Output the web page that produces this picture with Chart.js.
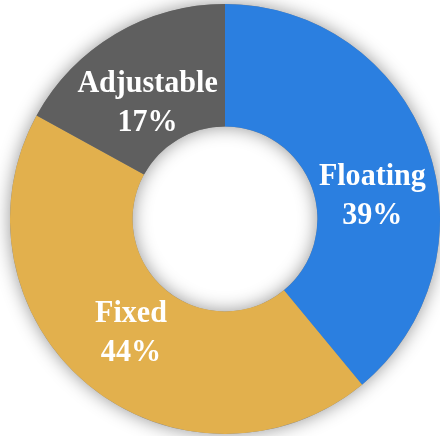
<!DOCTYPE html>
<html>
<head>
<meta charset="utf-8">
<script src="https://cdn.jsdelivr.net/npm/chart.js@4.4.1/dist/chart.umd.min.js"></script>
<style>
html,body{margin:0;padding:0;background:#ffffff;}
#wrap{width:440px;height:436px;position:relative;}
</style>
</head>
<body>
<div id="wrap"><canvas id="c" width="440" height="436"></canvas></div>
<script>
const categories = ["Floating", "Fixed", "Adjustable"];
const shares = [39, 44, 17];
const sliceColors = ["#2B7FE0", "#E2B04D", "#5F5F5F"];
// small angular nudges (degrees) applied to the label placement
const labelAngleShift = [11, 0, -3];
const labelRadiusFrac = [0.97, 0.96, 0.91];

const ringShadow = {
  id: 'ringShadow',
  beforeDatasetsDraw(chart) {
    const arc = chart.getDatasetMeta(0).data[0];
    if (!arc) return;
    const {x, y, outerRadius, innerRadius} = arc.getProps(['x','y','outerRadius','innerRadius'], true);
    const ctx = chart.ctx;
    ctx.save();
    ctx.shadowColor = 'rgba(0,0,0,0.42)';
    ctx.shadowBlur = 18;
    ctx.fillStyle = '#888';
    ctx.beginPath();
    ctx.arc(x, y, outerRadius, 0, Math.PI * 2);
    ctx.arc(x, y, innerRadius, 0, Math.PI * 2, true);
    ctx.closePath();
    ctx.fill();
    ctx.restore();
  }
};

const sliceLabels = {
  id: 'sliceLabels',
  afterDatasetsDraw(chart) {
    const ctx = chart.ctx;
    const meta = chart.getDatasetMeta(0);
    const total = shares.reduce((a, b) => a + b, 0);
    meta.data.forEach((arc, i) => {
      const p = arc.getProps(['x','y','startAngle','endAngle','outerRadius','innerRadius'], true);
      const mid = (p.startAngle + p.endAngle) / 2 + labelAngleShift[i] * Math.PI / 180;
      const r = (p.outerRadius + p.innerRadius) / 2 * labelRadiusFrac[i];
      const cx = p.x + Math.cos(mid) * r;
      const cy = p.y + Math.sin(mid) * r;
      ctx.save();
      ctx.translate(cx, cy);
      ctx.scale(0.94, 1);
      ctx.fillStyle = '#ffffff';
      ctx.textAlign = 'center';
      ctx.textBaseline = 'middle';
      ctx.font = 'bold 32px "Liberation Serif", "DejaVu Serif", serif';
      ctx.fillText(categories[i], 0, -19);
      ctx.fillText(Math.round(shares[i] / total * 100) + '%', 0, 20);
      ctx.restore();
    });
  }
};

new Chart(document.getElementById('c'), {
  type: 'doughnut',
  data: {
    labels: categories,
    datasets: [{
      data: shares,
      backgroundColor: sliceColors,
      borderWidth: 0,
      hoverOffset: 0
    }]
  },
  options: {
    responsive: false,
    animation: false,
    cutout: '43%',
    layout: { padding: { left: 10, right: 0, top: 4, bottom: 2 } },
    plugins: {
      legend: { display: false },
      tooltip: { enabled: false },
      title: { display: false }
    }
  },
  plugins: [ringShadow, sliceLabels]
});
</script>
</body>
</html>
